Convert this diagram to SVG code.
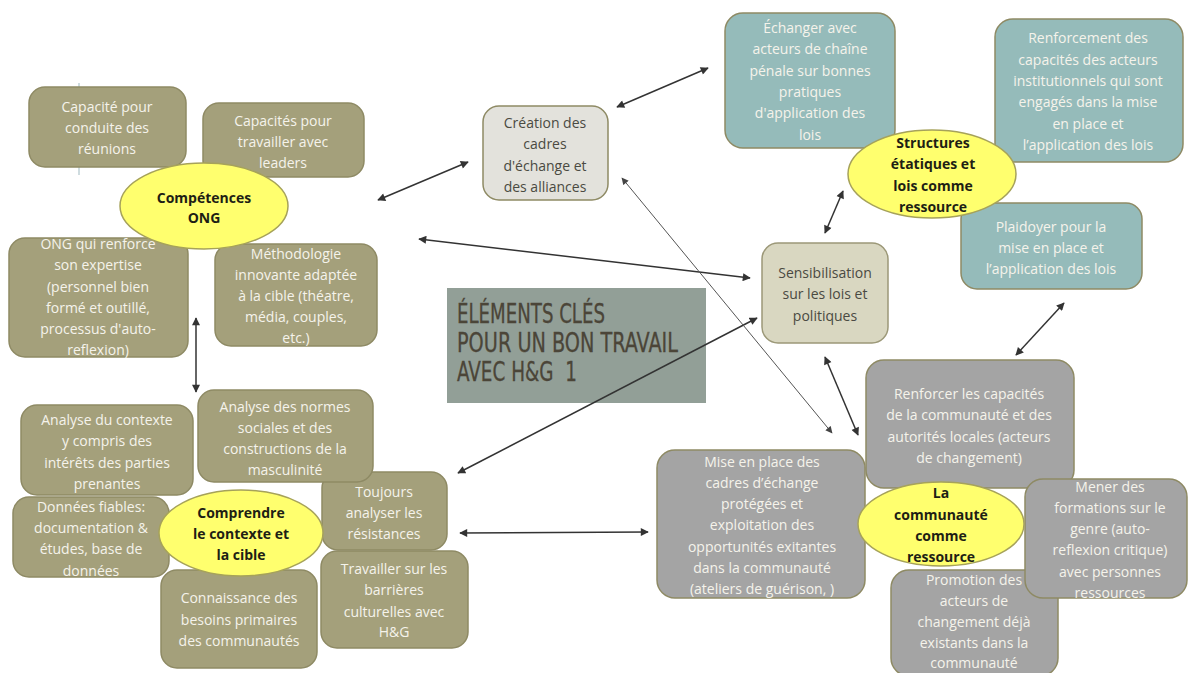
<svg xmlns="http://www.w3.org/2000/svg" width="1188" height="673" viewBox="0 0 1188 673">
  <defs>
    <marker id="ah" viewBox="0 0 10 10" refX="9" refY="5" markerWidth="9" markerHeight="8" markerUnits="userSpaceOnUse" orient="auto-start-reverse">
      <path d="M0,0 L10,5 L0,10 z" fill="#333"/>
    </marker>
    <marker id="ahs" viewBox="0 0 10 10" refX="9" refY="5" markerWidth="8" markerHeight="7" markerUnits="userSpaceOnUse" orient="auto-start-reverse">
      <path d="M0,0 L10,5 L0,10 z" fill="#444"/>
    </marker>
    <style>
      .ol { fill: #a4a07b; stroke: #8e8a64; stroke-width: 1.5; }
      .tl { fill: #95bbba; stroke: #8e8a64; stroke-width: 1.5; }
      .gr { fill: #a4a4a4; stroke: #8e8a64; stroke-width: 1.5; }
      .cr { fill: #e3e2dc; stroke: #8e8a64; stroke-width: 1.5; }
      .se { fill: #d9d7c1; stroke: #9c9878; stroke-width: 1.5; }
      .el { fill: #ffff6e; stroke: #a6a25a; stroke-width: 1.5; }
      text { font-family: "Open Sans", "Liberation Sans", sans-serif; font-size: 14px; text-anchor: middle; }
      .w { fill: #f5f3eb; }
      .d { fill: #4a4a42; }
      .b { fill: #1e1e14; font-weight: bold; }
      .ttl { font-family: "Liberation Sans Narrow", "DejaVu Sans Condensed", "Liberation Sans", sans-serif; font-size: 27px; fill: #4b4538; text-anchor: start; stroke: #4b4538; stroke-width: 0.3; }
      .cn { stroke: #333; stroke-width: 1.5; fill: none; marker-start: url(#ah); marker-end: url(#ah); }
      .cn2 { stroke: #555; stroke-width: 1; fill: none; marker-start: url(#ahs); marker-end: url(#ahs); }
    </style>
  </defs>

  <rect width="1188" height="673" fill="#ffffff"/>

  <!-- title panel sits under the connectors -->
  <g id="titre">
    <rect x="447" y="288" width="259" height="115" fill="#929f97"/>
    <text class="ttl" x="457" y="323" textLength="148" lengthAdjust="spacingAndGlyphs">ÉLÉMENTS CLÉS</text>
    <text class="ttl" x="457" y="352" textLength="221" lengthAdjust="spacingAndGlyphs">POUR UN BON TRAVAIL</text>
    <text class="ttl" x="457" y="381" textLength="120" lengthAdjust="spacingAndGlyphs" xml:space="preserve">AVEC H&amp;G  1</text>
  </g>

  <!-- connectors -->
  <g id="connectors">
    <line x1="79" y1="83" x2="79" y2="175" stroke="#9fb9c0" stroke-width="1"/>
    <line class="cn" x1="378" y1="200" x2="468" y2="162"/>
    <line class="cn" x1="419" y1="239" x2="750" y2="278"/>
    <line class="cn" x1="196" y1="318" x2="196" y2="392"/>
    <line class="cn" x1="458" y1="473" x2="757" y2="318"/>
    <line class="cn" x1="460" y1="533" x2="648" y2="532"/>
    <line class="cn" x1="617" y1="107" x2="708" y2="68"/>
    <line class="cn2" x1="622" y1="178" x2="832" y2="433"/>
    <line class="cn" x1="825" y1="233" x2="843" y2="191"/>
    <line class="cn" x1="825" y1="357" x2="858" y2="435"/>
    <line class="cn" x1="1064" y1="303" x2="1016" y2="355"/>
  </g>

  <!-- NGO skills cluster -->
  <g id="cap-reunions">
    <rect class="ol" x="29" y="87" width="157" height="80" rx="16"/>
    <text class="w"><tspan x="107" y="112">Capacité pour</tspan><tspan x="107" y="133">conduite des</tspan><tspan x="107" y="154">réunions</tspan></text>
  </g>
  <g id="cap-leaders">
    <rect class="ol" x="203" y="103" width="161" height="74" rx="16"/>
    <text class="w"><tspan x="283" y="126">Capacités pour</tspan><tspan x="283" y="147">travailler avec</tspan><tspan x="283" y="168">leaders</tspan></text>
  </g>
  <g id="ong-expertise">
    <rect class="ol" x="9" y="238" width="179" height="119" rx="16"/>
    <text class="w"><tspan x="98" y="249">ONG qui renforce</tspan><tspan x="98" y="270">son expertise</tspan><tspan x="98" y="292">(personnel bien</tspan><tspan x="98" y="313">formé et outillé,</tspan><tspan x="98" y="334">processus d'auto-</tspan><tspan x="98" y="355">reflexion)</tspan></text>
  </g>
  <g id="methodologie">
    <rect class="ol" x="215" y="244" width="162" height="102" rx="16"/>
    <text class="w"><tspan x="296" y="259">Méthodologie</tspan><tspan x="296" y="280">innovante adaptée</tspan><tspan x="296" y="301">à la cible (théatre,</tspan><tspan x="296" y="322">média, couples,</tspan><tspan x="296" y="343">etc.)</tspan></text>
  </g>
  <g id="competences-ong">
    <ellipse class="el" cx="204" cy="206" rx="84" ry="43"/>
    <text class="b"><tspan x="204" y="203">Compétences</tspan><tspan x="204" y="223">ONG</tspan></text>
  </g>

  <!-- context cluster -->
  <g id="analyse-contexte">
    <rect class="ol" x="21" y="405" width="172" height="90" rx="16"/>
    <text class="w"><tspan x="107" y="425">Analyse du contexte</tspan><tspan x="107" y="446">y compris des</tspan><tspan x="107" y="468">intérêts des parties</tspan><tspan x="107" y="489">prenantes</tspan></text>
  </g>
  <g id="donnees">
    <rect class="ol" x="13" y="497" width="156" height="80" rx="16"/>
    <text class="w"><tspan x="91" y="512">Données fiables:</tspan><tspan x="91" y="533">documentation &amp;</tspan><tspan x="91" y="554">études, base de</tspan><tspan x="91" y="576">données</tspan></text>
  </g>
  <g id="toujours">
    <rect class="ol" x="322" y="472" width="125" height="78" rx="16"/>
    <text class="w"><tspan x="384" y="497">Toujours</tspan><tspan x="384" y="518">analyser les</tspan><tspan x="384" y="539">résistances</tspan></text>
  </g>
  <g id="analyse-normes">
    <rect class="ol" x="198" y="390" width="175" height="92" rx="16"/>
    <text class="w"><tspan x="285" y="412">Analyse des normes</tspan><tspan x="285" y="433">sociales et des</tspan><tspan x="285" y="454">constructions de la</tspan><tspan x="285" y="475">masculinité</tspan></text>
  </g>
  <g id="travailler">
    <rect class="ol" x="321" y="551" width="147" height="97" rx="16"/>
    <text class="w"><tspan x="394" y="574">Travailler sur les</tspan><tspan x="394" y="595">barrières</tspan><tspan x="394" y="617">culturelles avec</tspan><tspan x="394" y="637">H&amp;G</tspan></text>
  </g>
  <g id="connaissance">
    <rect class="ol" x="161" y="570" width="156" height="98" rx="16"/>
    <text class="w"><tspan x="239" y="603">Connaissance des</tspan><tspan x="239" y="625">besoins primaires</tspan><tspan x="239" y="646">des communautés</tspan></text>
  </g>
  <g id="comprendre">
    <ellipse class="el" cx="241" cy="533" rx="82" ry="43"/>
    <text class="b"><tspan x="241" y="518">Comprendre</tspan><tspan x="241" y="539">le contexte et</tspan><tspan x="241" y="560">la cible</tspan></text>
  </g>

  <!-- central nodes -->
  <g id="creation">
    <rect class="cr" x="483" y="106" width="125" height="94" rx="16"/>
    <text class="d"><tspan x="545" y="128">Création des</tspan><tspan x="545" y="149">cadres</tspan><tspan x="545" y="171">d'échange et</tspan><tspan x="545" y="192">des alliances</tspan></text>
  </g>
  <g id="sensibilisation">
    <rect class="se" x="762" y="243" width="126" height="100" rx="16"/>
    <text class="d"><tspan x="825" y="278">Sensibilisation</tspan><tspan x="825" y="299">sur les lois et</tspan><tspan x="825" y="321">politiques</tspan></text>
  </g>

  <!-- state structures cluster -->
  <g id="echanger">
    <rect class="tl" x="725" y="13" width="170" height="135" rx="18"/>
    <text class="w"><tspan x="810" y="33">Échanger avec</tspan><tspan x="810" y="54">acteurs de chaîne</tspan><tspan x="810" y="76">pénale sur bonnes</tspan><tspan x="810" y="97">pratiques</tspan><tspan x="810" y="118">d'application des</tspan><tspan x="810" y="140">lois</tspan></text>
  </g>
  <g id="renforcement">
    <rect class="tl" x="995" y="19" width="188" height="143" rx="18"/>
    <text class="w"><tspan x="1088" y="43">Renforcement des</tspan><tspan x="1088" y="65">capacités des acteurs</tspan><tspan x="1088" y="86">institutionnels qui sont</tspan><tspan x="1088" y="107">engagés dans la mise</tspan><tspan x="1088" y="129">en place et</tspan><tspan x="1088" y="150">l’application des lois</tspan></text>
  </g>
  <g id="plaidoyer">
    <rect class="tl" x="961" y="203" width="181" height="86" rx="16"/>
    <text class="w"><tspan x="1051" y="232">Plaidoyer pour la</tspan><tspan x="1051" y="253">mise en place et</tspan><tspan x="1051" y="274">l’application des lois</tspan></text>
  </g>
  <g id="structures">
    <ellipse class="el" cx="932" cy="174" rx="84" ry="44"/>
    <text class="b"><tspan x="933" y="148">Structures</tspan><tspan x="933" y="169">étatiques et</tspan><tspan x="933" y="191">lois comme</tspan><tspan x="933" y="212">ressource</tspan></text>
  </g>

  <!-- community cluster -->
  <g id="renforcer">
    <rect class="gr" x="866" y="360" width="208" height="128" rx="18"/>
    <text class="w"><tspan x="969" y="399">Renforcer les capacités</tspan><tspan x="969" y="420">de la communauté et des</tspan><tspan x="969" y="442">autorités locales (acteurs</tspan><tspan x="969" y="463">de changement)</tspan></text>
  </g>
  <g id="mise-en-place">
    <rect class="gr" x="657" y="450" width="208" height="148" rx="18"/>
    <text class="w"><tspan x="762" y="467">Mise en place des</tspan><tspan x="762" y="488">cadres d’échange</tspan><tspan x="762" y="509">protégées et</tspan><tspan x="762" y="530">exploitation des</tspan><tspan x="762" y="552">opportunités exitantes</tspan><tspan x="762" y="573">dans la communauté</tspan><tspan x="762" y="594">(ateliers de guérison, )</tspan></text>
  </g>
  <g id="promotion">
    <rect class="gr" x="891" y="570" width="167" height="106" rx="18"/>
    <text class="w"><tspan x="974" y="585">Promotion des</tspan><tspan x="974" y="606">acteurs de</tspan><tspan x="974" y="627">changement déjà</tspan><tspan x="974" y="648">existants dans la</tspan><tspan x="974" y="668">communauté</tspan></text>
  </g>
  <g id="mener">
    <rect class="gr" x="1025" y="479" width="162" height="119" rx="18"/>
    <text class="w"><tspan x="1110" y="492">Mener des</tspan><tspan x="1110" y="513">formations sur le</tspan><tspan x="1110" y="534">genre (auto-</tspan><tspan x="1110" y="555">reflexion critique)</tspan><tspan x="1110" y="577">avec personnes</tspan><tspan x="1110" y="598">ressources</tspan></text>
  </g>
  <g id="communaute">
    <ellipse class="el" cx="941" cy="524" rx="83" ry="42"/>
    <text class="b"><tspan x="941" y="498">La</tspan><tspan x="941" y="520">communauté</tspan><tspan x="941" y="541">comme</tspan><tspan x="941" y="562">ressource</tspan></text>
  </g>
</svg>
